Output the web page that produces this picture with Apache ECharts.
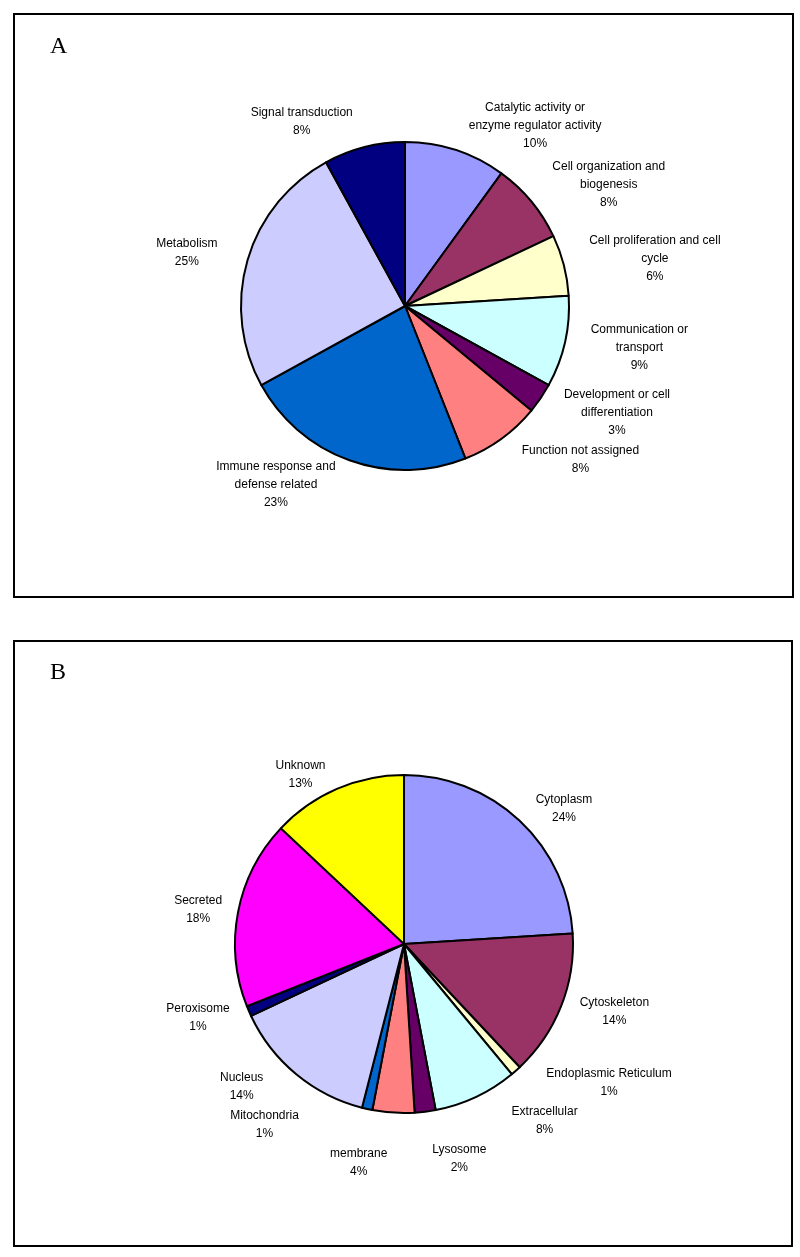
<!DOCTYPE html>
<html>
<head>
<meta charset="utf-8">
<script src="https://cdn.jsdelivr.net/npm/echarts@6/dist/echarts.min.js"></script>
<style>
  html, body { margin: 0; padding: 0; background: #fff; }
  #chart { width: 800px; height: 1257px; }
</style>
</head>
<body>
<div id="chart"></div>
<script>
// Panel A: molecular function categories (percent)
const categoriesA = [
  'Catalytic activity or\nenzyme regulator activity',
  'Cell organization and\nbiogenesis',
  'Cell proliferation and cell\ncycle',
  'Communication or\ntransport',
  'Development or cell\ndifferentiation',
  'Function not assigned',
  'Immune response and\ndefense related',
  'Metabolism',
  'Signal transduction'
];
const valuesA = [10, 8, 6, 9, 3, 8, 23, 25, 8];
const colorsA = ['#9999FF', '#993366', '#FFFFCC', '#CCFFFF', '#660066', '#FF8080', '#0066CC', '#CCCCFF', '#000080'];

// Panel B: subcellular location categories (percent)
const categoriesB = [
  'Cytoplasm', 'Cytoskeleton', 'Endoplasmic Reticulum', 'Extracellular', 'Lysosome',
  'membrane', 'Mitochondria', 'Nucleus', 'Peroxisome', 'Secreted', 'Unknown'
];
const valuesB = [24, 14, 1, 8, 2, 4, 1, 14, 1, 18, 13];
const colorsB = ['#9999FF', '#993366', '#FFFFCC', '#CCFFFF', '#660066', '#FF8080', '#0066CC', '#CCCCFF', '#000080', '#FF00FF', '#FFFF00'];

const panelLabels = ['A', 'B'];

function makeData(cats, vals, cols) {
  return cats.map((c, i) => ({ name: c, value: vals[i], itemStyle: { color: cols[i] } }));
}

function centerLines(params) {
  const r = params.labelRect;
  return { x: r.x + r.width / 2, y: r.y + r.height / 2, align: 'center', verticalAlign: 'middle' };
}

function pieSeries(data, center, radius, len) {
  return {
    type: 'pie',
    center: center,
    radius: radius,
    startAngle: 90,
    clockwise: true,
    percentPrecision: 0,
    animation: false,
    silent: true,
    data: data,
    itemStyle: { borderColor: '#000', borderWidth: 2 },
    label: {
      show: true,
      position: 'outside',
      formatter: '{b}\n{d}%',
      fontFamily: 'Liberation Sans, Arial, sans-serif',
      fontSize: 12,
      lineHeight: 18,
      color: '#000',
      distanceToLabelLine: 5
    },
    labelLine: { show: false, length: len, length2: 0 },
    labelLayout: centerLines
  };
}

const chart = echarts.init(document.getElementById('chart'), null, { renderer: 'canvas' });
chart.setOption({
  backgroundColor: '#fff',
  animation: false,
  title: [
    { text: panelLabels[0], left: 45, top: 30, textStyle: { fontFamily: 'Liberation Serif, Times New Roman, serif', fontSize: 24, fontWeight: 'normal', color: '#000' } },
    { text: panelLabels[1], left: 45, top: 656, textStyle: { fontFamily: 'Liberation Serif, Times New Roman, serif', fontSize: 24, fontWeight: 'normal', color: '#000' } }
  ],
  graphic: [
    { type: 'rect', shape: { x: 14, y: 14, width: 779, height: 583 }, style: { fill: 'none', stroke: '#000', lineWidth: 2 }, silent: true },
    { type: 'rect', shape: { x: 14, y: 641, width: 778, height: 605 }, style: { fill: 'none', stroke: '#000', lineWidth: 2 }, silent: true }
  ],
  series: [
    pieSeries(makeData(categoriesA, valuesA, colorsA), [405, 306], 164, 26),
    pieSeries(makeData(categoriesB, valuesB, colorsB), [404, 944], 169, 16)
  ]
});
</script>
</body>
</html>
